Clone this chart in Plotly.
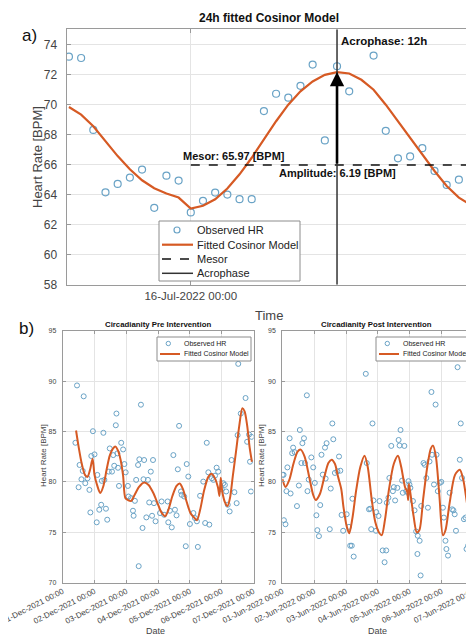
import plotly.graph_objects as go
import pandas as pd

# page body has an 8px default margin; the figure fills the rest of the 474x642 window
OFF = 8
W, H = 474 - OFF, 642 - OFF

# ---------------- Panel a data (24h fitted cosinor) ----------------
obs_hours_a = [-10, -9, -8, -7, -6, -5, -4, -3, -2, -1, 0, 1, 2, 3, 4, 5, 6, 7, 8, 9,
               10, 11, 12, 13, 15, 16, 17, 18, 19, 20, 21, 22, 23]
obs_hr_a = [73.18, 73.09, 68.30, 64.15, 64.71, 65.13, 65.66, 63.12, 65.26, 64.93,
            62.81, 63.58, 64.13, 64.00, 63.69, 63.69, 69.56, 70.71, 70.45, 71.24,
            72.65, 67.60, 72.54, 70.87, 73.25, 68.24, 66.41, 66.54, 67.09, 65.57,
            64.64, 64.99, 63.58]
fit_hours_a = [-10, -9, -8, -7, -6, -5, -4, -3, -2, -1, 0, 1, 2, 3, 4, 5, 6, 7, 8, 9,
               10, 11, 12, 13, 14, 15, 16, 17, 18, 19, 20, 21, 22, 23]
fit_hr_a = [69.83, 69.32, 68.55, 67.55, 66.56, 65.68, 64.95, 64.42, 64.07, 63.80,
            63.07, 63.25, 63.69, 64.40, 65.35, 66.45, 67.66, 68.88, 69.98, 70.87,
            71.53, 71.97, 72.15, 72.06, 71.64, 70.98, 69.98, 68.88, 67.77, 66.67,
            65.57, 64.57, 63.80, 63.29]
mesor_a = 65.97
amplitude_a = 6.19
acrophase_h = 12
xtick_hours_a = [0]
xtick_text_a = ["16-Jul-2022 00:00"]
yticks_a = [58, 60, 62, 64, 66, 68, 70, 72, 74]

# ---------------- Panel b data (pre / post intervention) ----------------
pre_obs_days = [0.45, 0.66, 0.95, 1.28, 0.40, 0.53, 0.63, 0.59, 0.71, 0.50, 0.78, 0.90,
                1.00, 0.84, 1.09, 1.23, 1.31, 0.87, 1.07, 1.15, 1.21, 1.36, 1.40, 1.48,
                1.59, 1.67, 1.69, 1.72, 1.84, 1.90, 1.45, 1.55, 1.62, 1.74, 1.94, 1.98,
                1.77, 2.05, 2.07, 2.15, 2.21, 2.23, 2.27, 2.31, 2.37, 2.41, 2.46, 2.56,
                2.51, 2.54, 2.63, 2.68, 2.72, 2.77, 2.81, 2.84, 2.87, 2.92, 2.39,
                3.11, 3.30, 3.06, 3.19, 3.37, 3.32, 3.43, 3.53, 3.58, 3.48, 3.62, 3.66,
                3.72, 3.74, 3.82, 3.90, 3.95, 3.87, 4.00, 4.11, 4.16, 4.22, 4.25, 4.32,
                4.42, 4.48, 4.53, 4.58, 4.61, 4.69, 4.74, 4.79, 4.84, 4.89, 5.05, 5.10,
                5.00, 5.14, 5.19, 5.25, 5.31, 5.40, 5.47, 5.50, 5.60, 5.75, 5.80, 5.86,
                5.89, 5.94, 5.92, 5.52]
pre_obs_hr = [89.57, 88.49, 85.03, 84.87, 83.88, 81.68, 81.09, 80.26, 79.87, 79.47, 80.36, 82.57,
              82.73, 79.21, 80.69, 80.10, 80.20, 76.97, 75.99, 77.24, 77.73, 77.34, 76.25, 83.32,
              82.66, 85.62, 86.78, 82.83, 83.88, 83.22, 81.02, 81.02, 81.60, 81.40, 81.77, 80.95,
              79.60, 79.60, 78.55, 78.39, 77.14, 76.64, 78.12, 80.20, 81.68, 82.24, 87.66, 82.17,
              75.43, 80.26, 76.48, 80.20, 77.96, 81.02, 76.64, 82.17, 77.89, 76.09, 71.64,
              78.06, 78.06, 76.91, 76.74, 77.14, 75.99, 75.49, 77.24, 76.68, 82.66, 81.25, 85.56,
              79.05, 78.72, 78.55, 81.77, 80.53, 73.62, 75.82, 76.91, 76.41, 76.09, 73.55, 78.62,
              80.03, 75.92, 83.88, 80.95, 75.76, 80.36, 80.20, 80.62, 81.41, 81.02, 79.87, 79.70,
              79.28, 79.05, 77.73, 77.07, 82.17, 78.98, 77.89, 84.64, 86.78, 88.32, 83.98, 84.70,
              82.00, 84.47, 79.05, 91.71]
pre_fit_days = [0.42, 0.50, 0.60, 0.70, 0.78, 0.86, 0.94, 1.00, 1.08, 1.18, 1.28, 1.38,
                1.48, 1.58, 1.66, 1.74, 1.82, 1.90, 1.97, 2.05, 2.15, 2.26, 2.40, 2.56,
                2.70, 2.85, 2.98, 3.10, 3.22, 3.32, 3.45, 3.58, 3.68, 3.78, 3.90, 4.02,
                4.12, 4.22, 4.32, 4.45, 4.58, 4.68, 4.78, 4.88, 4.93, 4.97, 5.02, 5.10,
                5.18, 5.26, 5.35, 5.45, 5.55, 5.65, 5.72, 5.80, 5.88, 5.95]
pre_fit_hr = [85.1, 83.5, 81.8, 80.7, 80.5, 81.2, 82.3, 80.7, 79.7, 78.9, 79.6, 81.2,
              82.6, 83.3, 83.5, 83.1, 82.2, 80.6, 78.4, 78.2, 78.1, 78.7, 79.5, 79.95,
              79.7, 78.9, 77.9, 77.0, 76.6, 77.2, 78.6, 79.6, 79.85, 79.3, 78.0, 76.9,
              76.5, 76.2, 77.2, 79.2, 80.5, 80.8, 80.4, 79.5, 78.6, 80.4, 79.0, 78.0,
              77.6, 78.4, 80.6, 83.0, 85.5, 87.3, 87.0, 85.6, 83.4, 82.0]
post_obs_days = [0.01, 0.04, 0.05, 0.10, 0.13, 0.16, 0.23, 0.26, 0.31, 0.34, 0.39, 0.46,
                 0.52, 0.55, 0.60, 0.63, 0.68, 0.71, 0.77, 0.79, 0.83, 0.91, 0.97, 1.02,
                 1.07, 1.10, 1.15, 1.19, 1.23, 1.27, 1.34, 1.39, 1.36, 1.49, 1.52, 1.57,
                 1.60, 1.65, 1.73, 1.78, 1.82, 1.86, 1.91, 2.02, 2.09, 2.13, 2.18, 2.24,
                 2.20, 2.62, 2.65, 2.83, 2.72, 2.76, 2.86, 2.79, 2.94, 2.95, 3.02, 3.05,
                 3.15, 3.26, 3.21, 3.28, 3.33, 3.36, 3.42, 3.47, 3.50, 3.54, 3.61, 3.65,
                 3.68, 3.71, 3.76, 3.78, 3.83, 3.89, 3.94, 3.96, 3.99, 4.02, 4.10, 4.15,
                 4.20, 4.25, 4.31, 4.24, 4.34, 4.36, 4.43, 4.47, 4.52, 4.57, 4.62, 4.68,
                 4.70, 4.76, 4.81, 4.84, 4.88, 4.94, 4.99, 5.04, 5.07, 5.12, 5.15, 5.20,
                 5.25, 5.33, 5.37, 5.41, 5.45, 5.50, 5.57, 5.60, 5.64, 5.70, 5.75, 5.78,
                 5.83, 5.86, 5.94, 5.97]
post_obs_hr = [80.70, 80.70, 76.20, 75.80, 79.08, 81.44, 84.33, 78.85, 82.85, 83.40, 82.95, 77.60,
               79.64, 85.15, 81.87, 83.84, 84.33, 81.87, 88.59, 79.08, 80.23, 82.43, 81.44, 79.90,
               76.69, 75.21, 74.62, 77.70, 82.69, 80.72, 83.40, 83.84, 80.33, 75.31, 79.34, 85.80,
               84.23, 80.89, 81.05, 82.52, 81.11, 76.72, 75.15, 76.79, 75.54, 73.67, 73.67, 72.59,
               78.33, 90.72, 81.87, 85.80, 77.28, 77.34, 78.16, 75.31, 75.15, 77.00, 76.62, 78.10,
               73.20, 73.20, 72.03, 77.93, 78.43, 80.39, 83.57, 79.08, 79.48, 78.16, 79.41, 84.16,
               83.61, 85.15, 80.13, 78.92, 83.57, 79.08, 78.92, 80.07, 79.74, 79.41, 78.10, 77.18,
               75.08, 74.66, 74.16, 72.85, 70.72, 77.61, 81.87, 81.70, 80.39, 77.44, 82.03, 88.92,
               82.69, 79.74, 87.67, 82.69, 79.08, 79.90, 80.00, 77.44, 76.46, 74.16, 73.34, 72.69,
               78.92, 77.28, 77.18, 76.79, 75.15, 91.38, 82.20, 85.80, 80.39, 76.30, 76.46, 73.34,
               73.67, 77.44, 76.30, 77.44]
post_fit_days = [0.00, 0.10, 0.22, 0.35, 0.48, 0.58, 0.70, 0.85, 0.97, 1.05, 1.18, 1.32,
                 1.45, 1.55, 1.65, 1.75, 1.85, 1.92, 2.02, 2.10, 2.20, 2.32, 2.45, 2.58,
                 2.68, 2.80, 2.92, 3.05, 3.12, 3.22, 3.35, 3.50, 3.63, 3.73, 3.85, 3.92,
                 3.95, 3.97, 4.00, 4.12, 4.22, 4.30, 4.42, 4.55, 4.66, 4.73, 4.82, 4.93,
                 5.04, 5.12, 5.25, 5.42, 5.57, 5.68, 5.80, 5.92, 6.00]
post_fit_hr = [80.3, 79.5, 80.2, 81.8, 83.0, 83.2, 82.5, 80.4, 78.7, 78.2, 78.8, 80.5,
               81.9, 82.2, 81.8, 80.5, 79.3, 77.5, 75.6, 74.9, 76.4, 79.2, 81.5, 82.6,
               81.5, 78.4, 76.0, 74.9, 74.7, 76.2, 79.3, 81.8, 82.6, 81.5, 79.5, 79.0,
               78.2, 79.8, 79.3, 76.6, 75.0, 75.2, 78.3, 81.5, 83.3, 83.6, 82.5, 78.6,
               74.7, 75.2, 77.9, 80.7, 81.2, 80.2, 77.8, 75.8, 75.0]
tick_days_b = [0, 1, 2, 3, 4, 5, 6]
pre_tick_text = ["01-Dec-2021 00:00", "02-Dec-2021 00:00", "03-Dec-2021 00:00", "04-Dec-2021 00:00",
                 "05-Dec-2021 00:00", "06-Dec-2021 00:00", "07-Dec-2021 00:00"]
post_tick_text = ["01-Jun-2022 00:00", "02-Jun-2022 00:00", "03-Jun-2022 00:00", "04-Jun-2022 00:00",
                  "05-Jun-2022 00:00", "06-Jun-2022 00:00", "07-Jun-2022 00:00"]
yticks_b = [70, 75, 80, 85, 90, 95]

# ---------------- helpers ----------------
base_a = pd.Timestamp("2022-07-16 00:00")
base_pre = pd.Timestamp("2021-12-01 00:00")
base_post = pd.Timestamp("2022-06-01 00:00")


def th(base, hours):
    return [base + pd.to_timedelta(h, unit="h") for h in hours]


def td(base, days):
    return [base + pd.to_timedelta(d, unit="D") for d in days]


def px(x):
    # screen x (window pixels) -> paper fraction
    return (x - OFF) / W


def py(y):
    # screen y (window pixels) -> paper fraction
    return 1 - (y - OFF) / H


FONT = "Liberation Sans, Arial, sans-serif"
BLUE = "#6aa3c6"
ORANGE = "#d65a24"
GRID = "#e4e4e4"
FRAME = "#9a9a9a"
TXT = "#333333"

fig = go.Figure()

# ---------------- Panel a traces ----------------
fig.add_trace(go.Scatter(x=th(base_a, obs_hours_a), y=obs_hr_a, mode="markers",
                         marker=dict(symbol="circle-open", size=7, color=BLUE, line=dict(width=1.2)),
                         xaxis="x", yaxis="y", showlegend=False))
fig.add_trace(go.Scatter(x=th(base_a, fit_hours_a), y=fit_hr_a, mode="lines",
                         line=dict(color=ORANGE, width=2.2),
                         xaxis="x", yaxis="y", showlegend=False))
xr_a = th(base_a, [-10.2, 23.2])
fig.add_trace(go.Scatter(x=[th(base_a, [0])[0], xr_a[1]], y=[mesor_a, mesor_a], mode="lines",
                         line=dict(color="#111111", width=1.6, dash="dash"),
                         xaxis="x", yaxis="y", showlegend=False))
acro_t = th(base_a, [acrophase_h])[0]
fig.add_trace(go.Scatter(x=[acro_t, acro_t], y=[58, 75], mode="lines",
                         line=dict(color="#333333", width=1.5),
                         xaxis="x", yaxis="y", showlegend=False))

# ---------------- Panel b traces ----------------
fig.add_trace(go.Scatter(x=td(base_pre, pre_obs_days), y=pre_obs_hr, mode="markers",
                         marker=dict(symbol="circle-open", size=5, color=BLUE, line=dict(width=1)),
                         xaxis="x2", yaxis="y2", showlegend=False))
fig.add_trace(go.Scatter(x=td(base_pre, pre_fit_days), y=pre_fit_hr, mode="lines",
                         line=dict(color=ORANGE, width=2, shape="spline", smoothing=0.8),
                         xaxis="x2", yaxis="y2", showlegend=False))
fig.add_trace(go.Scatter(x=td(base_post, post_obs_days), y=post_obs_hr, mode="markers",
                         marker=dict(symbol="circle-open", size=5, color=BLUE, line=dict(width=1)),
                         xaxis="x3", yaxis="y3", showlegend=False))
fig.add_trace(go.Scatter(x=td(base_post, post_fit_days), y=post_fit_hr, mode="lines",
                         line=dict(color=ORANGE, width=2, shape="spline", smoothing=0.8),
                         xaxis="x3", yaxis="y3", showlegend=False))

axis_common = dict(showline=True, linecolor=FRAME, linewidth=1, mirror="ticks",
                   ticks="inside", tickcolor=FRAME, showgrid=True, gridcolor=GRID,
                   gridwidth=1, zeroline=False, automargin=False, ticklabeloverflow="allow")

fig.update_layout(
    template="none",
    width=W, height=H, margin=dict(l=0, r=0, t=0, b=0, autoexpand=False),
    paper_bgcolor="white", plot_bgcolor="white",
    font=dict(family=FONT, color=TXT),
    xaxis=dict(domain=[px(66.5), px(473.5)], anchor="y", type="date", range=xr_a,
               tickvals=th(base_a, xtick_hours_a), ticktext=xtick_text_a,
               tickfont=dict(size=11.5, color="#444"), ticklen=4, ticklabelstandoff=0,
               **axis_common),
    yaxis=dict(domain=[py(284.7), py(29.3)], anchor="x", range=[58, 75],
               tickvals=yticks_a, tickfont=dict(size=12, color="#444"), ticklen=4,
               ticklabelstandoff=6, **axis_common),
    xaxis2=dict(domain=[px(62.7), px(253.5)], anchor="y2", type="date",
                range=td(base_pre, [0, 6]), tickvals=td(base_pre, tick_days_b),
                ticktext=pre_tick_text, tickangle=-27, tickfont=dict(size=8, color="#444"),
                ticklen=3, **axis_common),
    yaxis2=dict(domain=[py(582.7), py(330.7)], anchor="x2", range=[70, 95],
                tickvals=yticks_b, tickfont=dict(size=7, color="#444"), ticklen=3,
                ticklabelstandoff=4, **axis_common),
    xaxis3=dict(domain=[px(282.3), px(473.5)], anchor="y3", type="date",
                range=td(base_post, [0, 6]), tickvals=td(base_post, tick_days_b),
                ticktext=post_tick_text, tickangle=-27, tickfont=dict(size=8, color="#444"),
                ticklen=3, **axis_common),
    yaxis3=dict(domain=[py(582.7), py(330.7)], anchor="x3", range=[70, 95],
                tickvals=yticks_b, tickfont=dict(size=7, color="#444"), ticklen=3,
                ticklabelstandoff=4, **axis_common),
)

ann = []


def txt(x, y, s, size, bold=False, xanchor="center", color="#222", angle=0):
    ann.append(dict(x=px(x), y=py(y), xref="paper", yref="paper", text=f"<b>{s}</b>" if bold else s,
                    showarrow=False, xanchor=xanchor, yanchor="middle", textangle=angle,
                    font=dict(family=FONT, size=size, color=color)))


# Panel a texts
txt(268.7, 18, "24h fitted Cosinor Model", 12, bold=True, color="#111")
txt(29, 36, "a)", 17, color="#111")
txt(37, 157, "Heart Rate [BPM]", 13, color="#444", angle=-90)
txt(269, 315, "Time", 13, color="#444")
txt(338.5, 41, "Acrophase: 12h", 11.5, bold=True, xanchor="left", color="#111")
txt(234, 156, f"Mesor: {mesor_a:.2f} [BPM]", 11, bold=True, color="#111")
txt(337, 173, f"Amplitude: {amplitude_a:.2f} [BPM]", 11, bold=True, color="#111")

# Arrow from mesor to peak at the acrophase
ann.append(dict(x=acro_t, y=mesor_a + amplitude_a, ax=acro_t, ay=mesor_a, xref="x", yref="y",
                axref="x", ayref="y", showarrow=True, arrowhead=2, arrowsize=1.1,
                arrowwidth=2.6, arrowcolor="#000", text=""))

# Panel b texts
txt(26, 328, "b)", 17, color="#111")
txt(158, 324, "Circadianity Pre Intervention", 7.8, bold=True, color="#111")
txt(376, 324, "Circadianity Post Intervention", 7.8, bold=True, color="#111")
txt(43, 456, "Heart Rate [BPM]", 8, color="#444", angle=-90)
txt(261, 456, "Heart Rate [BPM]", 8, color="#444", angle=-90)
txt(155, 631, "Date", 9, color="#444")
txt(377, 631, "Date", 9, color="#444")

shapes = []


def legend_box(x0, y0, x1, y1):
    shapes.append(dict(type="rect", xref="paper", yref="paper", x0=px(x0), x1=px(x1),
                       y0=py(y1), y1=py(y0), line=dict(color="#8c8c8c", width=1),
                       fillcolor="white", layer="above"))


def legend_circle(cx, cy, r, w=1.2):
    shapes.append(dict(type="circle", xref="paper", yref="paper", x0=px(cx - r), x1=px(cx + r),
                       y0=py(cy + r), y1=py(cy - r), line=dict(color=BLUE, width=w), layer="above"))


def legend_line(x0, x1, y, color, width, dash="solid"):
    shapes.append(dict(type="line", xref="paper", yref="paper", x0=px(x0), x1=px(x1),
                       y0=py(y), y1=py(y), line=dict(color=color, width=width, dash=dash),
                       layer="above"))


# Legend panel a
legend_box(159, 221, 300, 281)
legend_circle(177, 230, 3)
legend_line(162, 193, 244.7, ORANGE, 2.2)
legend_line(162, 193, 259, "#111", 1.6, "dash")
legend_line(162, 193, 273.3, "#333", 1.5)
txt(195, 230, "Observed HR", 11, xanchor="left")
txt(195, 244.7, "Fitted Cosinor Model", 11, xanchor="left")
txt(195, 259, "Mesor", 11, xanchor="left")
txt(195, 273.3, "Acrophase", 11, xanchor="left")

# Legends panel b
for (lx0, lx1) in [(157, 251), (376, 470)]:
    legend_box(lx0, 337, lx1, 361)
    legend_circle(lx0 + 11.3, 343.5, 2.2, 1)
    legend_line(lx0 + 3, lx0 + 23, 354, ORANGE, 2)
    txt(lx0 + 25, 343.5, "Observed HR", 7, xanchor="left")
    txt(lx0 + 25, 353.5, "Fitted Cosinor Model", 7, xanchor="left")

fig.update_layout(annotations=ann, shapes=shapes)

fig.write_html("out.html")
